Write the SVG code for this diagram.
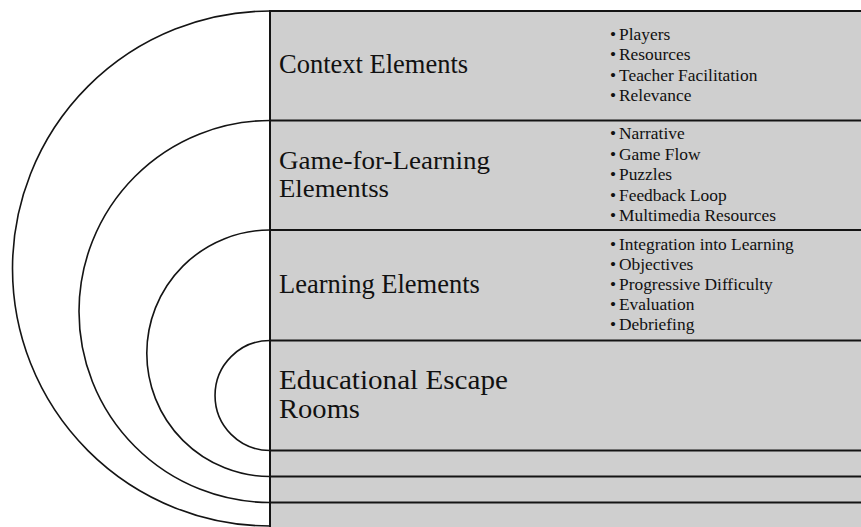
<svg xmlns="http://www.w3.org/2000/svg" width="861" height="527" viewBox="0 0 861 527">
  <style>
    .panel { fill: #cfcfcf; }
    .ring { fill: none; stroke: #141414; stroke-width: 1.6; }
    .rule { stroke: #141414; stroke-width: 2; fill: none; }
    .title { font-family: "Liberation Serif", "Times New Roman", serif; font-size: 26.5px; fill: #111; }
    .tight { font-size: 25.5px; }
    .item { font-family: "Liberation Serif", "Times New Roman", serif; font-size: 17.4px; fill: #111; }
  </style>

  <!-- background -->
  <rect x="0" y="0" width="861" height="527" fill="#ffffff"/>
  <rect class="panel" x="270" y="11" width="591" height="516"/>

  <!-- band dividers and spine -->
  <g id="connectors">
    <line class="rule" x1="270" y1="11" x2="861" y2="11"/>
    <line class="rule" x1="270" y1="120.5" x2="861" y2="120.5"/>
    <line class="rule" x1="270" y1="230" x2="861" y2="230"/>
    <line class="rule" x1="270" y1="340.5" x2="861" y2="340.5"/>
    <line class="rule" x1="270" y1="450.5" x2="861" y2="450.5"/>
    <line class="rule" x1="270" y1="476.5" x2="861" y2="476.5"/>
    <line class="rule" x1="270" y1="502.5" x2="861" y2="502.5"/>
    <line class="rule" x1="270" y1="10" x2="270" y2="527"/>
  </g>

  <!-- outer ring: context -->
  <g id="context-elements">
    <path class="ring" d="M270,11 A257.5,257.5 0 0 0 270,526"/>
    <text class="title" x="279" y="73">Context Elements</text>
    <text class="item" x="610" y="40">•</text><text class="item" x="619" y="40">Players</text>
    <text class="item" x="610" y="60.3">•</text><text class="item" x="619" y="60.3">Resources</text>
    <text class="item" x="610" y="80.6">•</text><text class="item" x="619" y="80.6">Teacher Facilitation</text>
    <text class="item" x="610" y="100.9">•</text><text class="item" x="619" y="100.9">Relevance</text>
  </g>

  <!-- second ring: game-for-learning -->
  <g id="game-for-learning-elements">
    <path class="ring" d="M270,120.5 A191,191 0 0 0 270,502.5"/>
    <text class="title tight" x="279" y="168.5" textLength="211" lengthAdjust="spacingAndGlyphs">Game-for-Learning</text>
    <text class="title tight" x="279" y="197" textLength="110" lengthAdjust="spacingAndGlyphs">Elementss</text>
    <text class="item" x="610" y="139.3">•</text><text class="item" x="619" y="139.3">Narrative</text>
    <text class="item" x="610" y="159.8">•</text><text class="item" x="619" y="159.8">Game Flow</text>
    <text class="item" x="610" y="180.3">•</text><text class="item" x="619" y="180.3">Puzzles</text>
    <text class="item" x="610" y="200.8">•</text><text class="item" x="619" y="200.8">Feedback Loop</text>
    <text class="item" x="610" y="221.3">•</text><text class="item" x="619" y="221.3">Multimedia Resources</text>
  </g>

  <!-- third ring: learning -->
  <g id="learning-elements">
    <path class="ring" d="M270,230 A123.25,123.25 0 0 0 270,476.5"/>
    <text class="title" x="279" y="292.7">Learning Elements</text>
    <text class="item" x="610" y="250">•</text><text class="item" x="619" y="250">Integration into Learning</text>
    <text class="item" x="610" y="270">•</text><text class="item" x="619" y="270">Objectives</text>
    <text class="item" x="610" y="290">•</text><text class="item" x="619" y="290">Progressive Difficulty</text>
    <text class="item" x="610" y="310">•</text><text class="item" x="619" y="310">Evaluation</text>
    <text class="item" x="610" y="330">•</text><text class="item" x="619" y="330">Debriefing</text>
  </g>

  <!-- core: educational escape rooms -->
  <g id="educational-escape-rooms">
    <path class="ring" d="M270,340.5 A55,55 0 0 0 270,450.5"/>
    <text class="title" x="279" y="389.3" textLength="229" lengthAdjust="spacingAndGlyphs">Educational Escape</text>
    <text class="title" x="279" y="418.3" textLength="81" lengthAdjust="spacingAndGlyphs">Rooms</text>
  </g>
</svg>
